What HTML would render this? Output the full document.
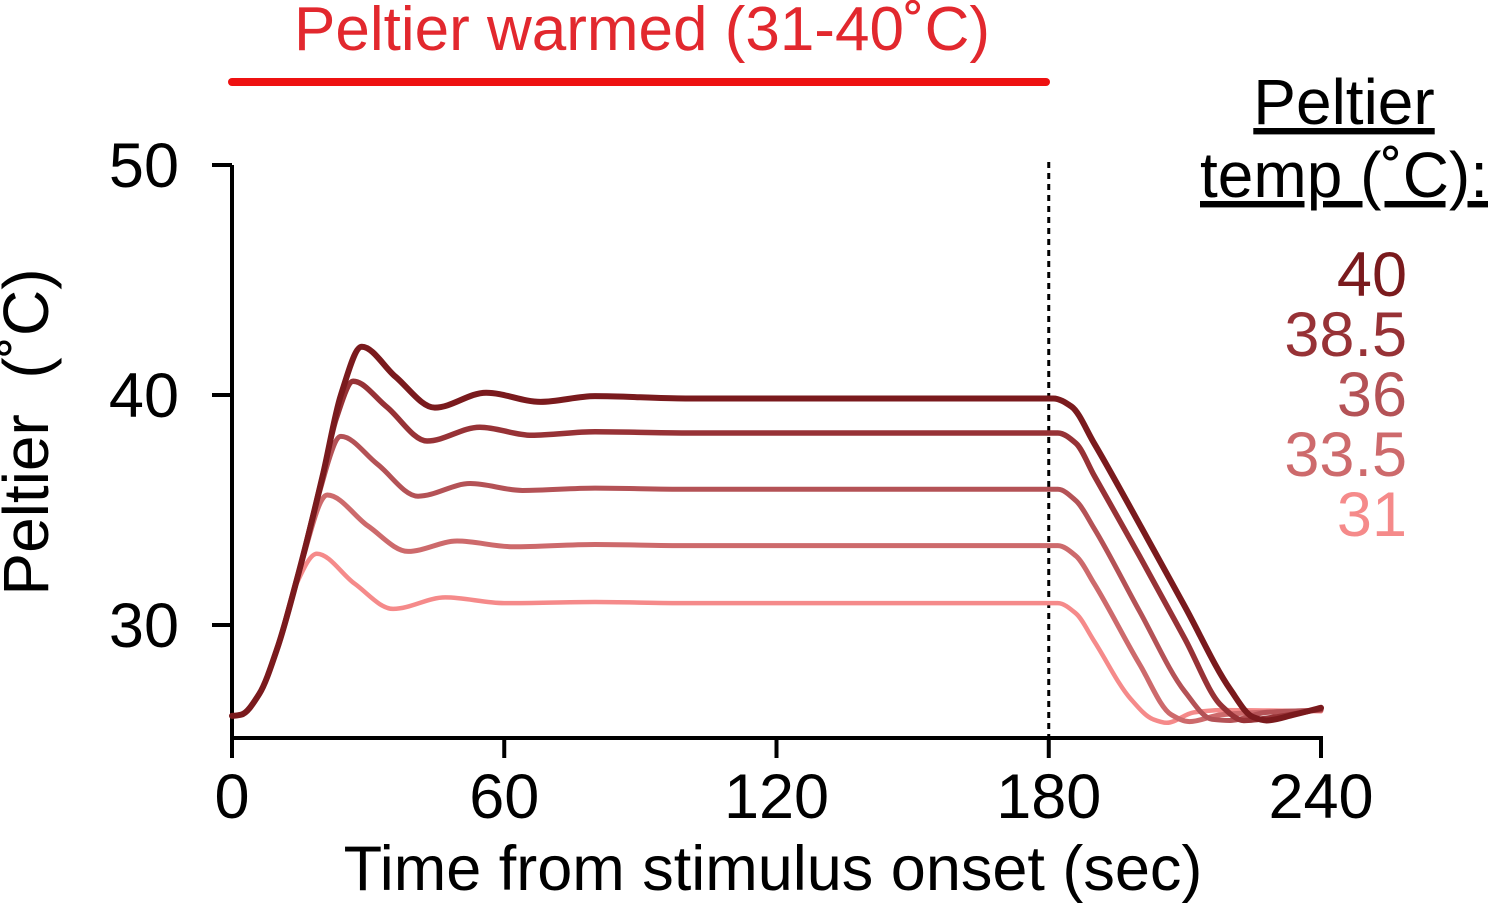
<!DOCTYPE html>
<html><head><meta charset="utf-8"><style>
html,body{margin:0;padding:0;background:#fff;}
svg{display:block;font-family:"Liberation Sans",Arial,sans-serif;}
</style></head><body>
<svg id="chart" width="1488" height="905" viewBox="0 0 1488 905">
<text x="642" y="50" font-size="62" fill="#e2282e" text-anchor="middle">Peltier warmed (31-40˚C)</text>
<line x1="232" y1="82" x2="1046" y2="82" stroke="#ee1111" stroke-width="8" stroke-linecap="round"/>
<g id="axes"></g>
<g id="series"></g>
<text transform="translate(48,432) rotate(-90)" font-size="64" text-anchor="middle" xml:space="preserve">Peltier  (˚C)</text>
<text x="773" y="890" font-size="63" text-anchor="middle">Time from stimulus onset (sec)</text>
<g>
<text x="1344" y="124" font-size="64" text-anchor="middle" text-decoration="underline">Peltier</text>
<text x="1344" y="197" font-size="64" text-anchor="middle" text-decoration="underline">temp (˚C):</text>
<g id="legend-items"></g>
</g>
</svg>
<script>
const xTicks=[0,60,120,180,240];
const yTicks=[30,40,50];
const labels=["40","38.5","36","33.5","31"];
const colors=["#7a1a1d","#973236","#b45256","#cd6a6c","#f58a8a"];
const widths=[6,5.5,5,5,4.5];
const t40=[0,2,6,10,15,20,24,28.6,36,44.7,56,68,80,100,181,185,190,198,210,220,225,228,234,240];
const v40=[26.05,26.1,27,29,32.5,36.5,40,42.1,40.8,39.45,40.1,39.7,39.95,39.85,39.85,39.5,37.9,35.1,30.8,27.2,26.0,25.85,26.1,26.4];
const t385=[0,2,6,10,15,20,23,26.7,34,43,54.6,66,80,100,182,186,190,200,210,218,223,230,240];
const v385=[26.05,26.1,27,29,32.5,36.5,39,40.6,39.5,38.0,38.6,38.25,38.4,38.35,38.35,37.9,36.5,33,29.4,26.5,25.85,26.0,26.35];
const t36=[0,2,6,10,15,19,24,32,41,52.5,64,80,100,182,186,190,200,210,216,220,228,240];
const v36=[26.05,26.1,27,29,32.5,35.6,38.2,37.0,35.6,36.15,35.85,35.95,35.9,35.9,35.4,34.2,30.6,27.1,25.9,25.85,26.2,26.3];
const t335=[0,2,6,10,15,21,30,38.8,49.6,62,80,100,182,186,190,200,207,211,218,240];
const v335=[26.05,26.1,27,29,32.5,35.65,34.3,33.2,33.65,33.4,33.5,33.45,33.45,33.0,31.8,28.3,26.1,25.8,26.1,26.3];
const t31=[0,2,6,10,14,18.7,27,35.5,47,60,80,100,182,186,190,198,203,206,212,218,240];
const v31=[26.05,26.1,27,29,31.7,33.1,31.8,30.7,31.2,30.95,31.0,30.95,30.95,30.5,29.3,26.8,25.9,25.75,26.2,26.3,26.25];
const seriesT=[t40,t385,t36,t335,t31];
const seriesV=[v40,v385,v36,v335,v31];
const NS="http://www.w3.org/2000/svg";
const X=t=>232+t*(1089/240);
const Y=v=>395-(v-40)*23;
function mk(tag,attrs,parent){const e=document.createElementNS(NS,tag);for(const k in attrs)e.setAttribute(k,attrs[k]);parent.appendChild(e);return e;}
const axes=document.getElementById('axes');
let e=mk('line',{x1:232,y1:Y(50),x2:232,y2:738,stroke:'#000','stroke-width':4},axes);


e=mk('line',{x1:230,y1:738,x2:1323,y2:738,stroke:'#000','stroke-width':4},axes);


yTicks.forEach(v=>{
 let l=mk('line',{x1:212,y1:Y(v),x2:232,y2:Y(v),stroke:'#000','stroke-width':4},axes);
 
 
 let t=mk('text',{x:179,y:Y(v)+22,'font-size':63,'text-anchor':'end'},axes);t.textContent=v;
 
 
});
xTicks.forEach(v=>{
 let l=mk('line',{x1:X(v),y1:738,x2:X(v),y2:758,stroke:'#000','stroke-width':4},axes);
 
 
 let t=mk('text',{x:X(v),y:818,'font-size':63,'text-anchor':'middle'},axes);t.textContent=v;
 
 
});
e=mk('line',{x1:X(180),y1:162,x2:X(180),y2:738,stroke:'#000','stroke-width':3,'stroke-dasharray':'6,5'},axes);


function path(ts,vs){
 const x=ts.map(X),y=vs.map(Y),n=x.length;
 const d=[],m=new Array(n);
 for(let i=0;i<n-1;i++)d.push((y[i+1]-y[i])/(x[i+1]-x[i]));
 m[0]=0;m[n-1]=d[n-2];
 for(let i=1;i<n-1;i++){
  if(d[i-1]*d[i]<=0)m[i]=0;
  else{const h0=x[i]-x[i-1],h1=x[i+1]-x[i];const w1=2*h1+h0,w2=h1+2*h0;m[i]=(w1+w2)/(w1/d[i-1]+w2/d[i]);}
 }
 let s=`M${x[0]},${y[0]}`;
 for(let i=0;i<n-1;i++){
  const h=(x[i+1]-x[i])/3;
  s+=` C${x[i]+h},${y[i]+m[i]*h} ${x[i+1]-h},${y[i+1]-m[i+1]*h} ${x[i+1]},${y[i+1]}`;
 }
 return s;
}
const sg=document.getElementById('series');
for(let i=seriesT.length-1;i>=0;i--){
 const p=mk('path',{d:path(seriesT[i],seriesV[i]),fill:'none',stroke:colors[i],'stroke-width':widths[i],'stroke-linejoin':'round','stroke-linecap':'round'},sg);
 
 
}
const lg=document.getElementById('legend-items');
labels.forEach((lab,i)=>{
 const t=mk('text',{x:1407,y:296+i*60,'font-size':63,'text-anchor':'end',fill:colors[i]},lg);
 t.textContent=lab;
 
 
});
</script>
</body></html>
